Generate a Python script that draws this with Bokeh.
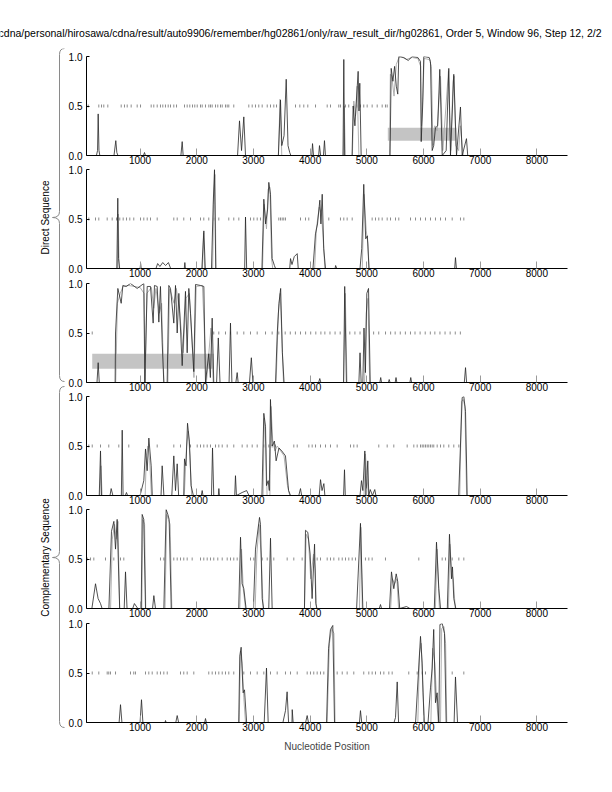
from bokeh.plotting import figure
from bokeh.models import Range1d, LinearAxis, FixedTicker, PrintfTickFormatter
from bokeh.layouts import column, row
from bokeh.embed import file_html
from bokeh.resources import INLINE
from bokeh.core.properties import value
import math

FONT = "Liberation Sans"

TITLE = "cdna/personal/hirosawa/cdna/result/auto9906/remember/hg02861/only/raw_result_dir/hg02861, Order 5, Window 96, Step 12, 2/2"
GROUP_LABELS = ["Direct Sequence", "Complementary Sequence"]
X_LABEL = "Nucleotide Position"
X_TICKS = [1000, 2000, 3000, 4000, 5000, 6000, 7000, 8000]
Y_TICKS = [0.0, 0.5, 1.0]
X_START, X_END = 55, 8540

# ---------------- panel 1 (Direct) ----------------
p1_black = [(60,0),(230,0),(250,0.05),(261,0.42),(275,0.05),(290,0),(540,0),(572,0.15),(590,0.03),(610,0),
            (1060,0),(1078,0.03),(1095,0),(1720,0),(1743,0.14),(1760,0),(2720,0),(2754,0.35),(2790,0.05),(2830,0.39),
            (2860,0),(3440,0),(3477,0.56),(3500,0.1),(3540,0.2),(3578,0.77),(3610,0.1),(3640,0.03),(3660,0),
            (4030,0),(4042,0.12),(4060,0),(4150,0),(4165,0.1),(4185,0),(4235,0),(4253,0.15),(4270,0),
            (4580,0),(4594,0.97),(4608,0),(4740,0),(4759,0.5),(4790,0.3),(4847,0.85),(4862,0.45),(4876,0.73),(4900,0),
            (5410,0),(5430,0.88),(5460,0.75),(5490,0.9),(5520,0.7),(5546,0.62),(5564,1.0),(5650,0.99),(5730,0.96),
            (5800,1.0),(5900,0.99),(5947,0.95),(5959,0.14),(5985,0.5),(6005,1.0),(6100,0.99),(6123,0.95),(6153,0.05),
            (6180,0.1),(6211,0.28),(6250,0.3),(6287,0.87),(6330,0),(6400,0.05),(6446,0.88),(6476,0),(6534,0.82),
            (6582,0),(6652,0.49),(6682,0),(6758,0.17),(6780,0)]
p1_gray = [(60,0),(3440,0),(3470,0.57),(3500,0),(4585,0),(4602,0.5),(4620,0),(4745,0),(4770,0.55),(4800,0.4),
           (4830,0.7),(4860,0),(5400,0),(5415,0.82),(5440,0.8),(5480,0.6),(5520,0.92),(5560,0.98),(5600,1.0),
           (5700,0.97),(5800,0.99),(5900,0.98),(5950,0.9),(5965,0.3),(5990,0.6),(6010,0.98),(6100,0.97),(6140,0.9),
           (6165,0.1),(6200,0.3),(6240,0.25),(6300,0.8),(6340,0.05),(6440,0.85),(6460,0.4),(6480,0.05),(6520,0.75),
           (6540,0.8),(6570,0.1),(6620,0.05),(6650,0.3),(6700,0),(6780,0)]
p1_rug = [85,272,320,360,431,667,725,773,843,949,1008,1196,1242,1302,1360,1401,1448,1496,1537,1595,1643,1784,
          1831,1877,1925,1965,2008,2066,2096,2154,2213,2243,2272,2331,2371,2419,2449,2507,2537,2565,2653,2918,
          2978,3036,3094,3154,3243,3301,3359,3407,3742,3818,3888,3959,4095,4301,4359,4505,4535,4623,4681,4769,
          4829,4888,4946,5006,5094,5183,5271,5329,5359]
p1_box = [(5370, 6582, 0.15, 0.28)]

# ---------------- panel 2 (Direct) ----------------
p2_black = [(60,0),(590,0),(607,0.71),(620,0.1),(640,0),(1000,0),(1010,0.05),(1020,0),(1280,0),(1310,0.05),
            (1350,0.02),(1400,0.06),(1450,0.03),(1500,0.06),(1540,0),(1780,0),(1790,0.06),(1800,0),(2090,0),
            (2125,0.38),(2150,0),(2260,0),(2290,0.65),(2313,1.0),(2335,0),(2845,0),(2860,0.52),(2880,0),(3150,0),
            (3183,0.70),(3215,0.45),(3250,0.6),(3271,0.87),(3301,0.75),(3330,0.1),(3370,0.03),(3390,0),(3640,0),
            (3654,0.1),(3680,0.04),(3720,0.12),(3772,0.15),(3790,0),(4050,0),(4094,0.35),(4130,0.45),(4171,0.69),
            (4190,0.45),(4213,0.75),(4240,0.2),(4271,0),(4440,0),(4450,0.03),(4470,0),(4880,0),(4910,0.2),
            (4946,0.85),(4980,0.3),(5010,0.33),(5038,0),(6550,0),(6564,0.11),(6580,0),(6780,0)]
p2_gray = [(60,0),(600,0),(615,0.55),(630,0),(2100,0),(2120,0.36),(2140,0),(2280,0),(2300,0.7),(2320,0.95),
           (2340,0),(3160,0),(3190,0.65),(3230,0.4),(3260,0.8),(3290,0.82),(3320,0.1),(3340,0),(4080,0),(4110,0.4),
           (4160,0.62),(4200,0.55),(4230,0.3),(4260,0),(4920,0),(4950,0.75),(4990,0.38),(5020,0.25),(5040,0),(6780,0)]
p2_rug = [96,214,272,420,508,584,642,702,761,819,889,1008,1066,1126,1184,1302,1595,1655,1771,1890,2066,2124,
          2212,2300,2389,2565,2653,2742,2860,2948,3006,3066,3124,3447,3477,3507,3535,3565,3830,3918,3976,4329,
          4535,4594,4653,4742,5094,5153,5211,5271,5359,5418,5506,5564,5771,5859,5947,6035,6123,6211,6300,6388,
          6506,6652,6711]
p2_box = []

# ---------------- panel 3 (Direct) ----------------
p3_black = [(60,0),(240,0),(261,0.2),(280,0),(560,0),(567,0.5),(608,0.95),(667,0.8),(696,0.98),(755,0.97),
            (831,1.0),(949,0.95),(1066,1.0),(1084,0.0),(1126,0.97),(1184,0.97),(1231,0.6),(1254,0.98),(1302,0.97),
            (1331,0.61),(1360,0.97),(1390,0.4),(1419,0),(1478,0),(1507,0.98),(1537,0.95),(1595,0.6),(1625,0.98),
            (1655,0.5),(1684,0.9),(1743,0.17),(1801,0.92),(1831,0.3),(1860,0.95),(1890,0.7),(1948,0.11),(1978,0.99),
            (2066,0.98),(2125,0.97),(2154,0),(2212,0.29),(2240,0.05),(2272,0.65),(2300,0),(2350,0),(2380,0.45),
            (2410,0),(2570,0),(2595,0.6),(2620,0),(2690,0),(2713,0.1),(2730,0),(2930,0),(2963,0.25),(2990,0),
            (3390,0),(3420,0.5),(3450,0.8),(3480,0.95),(3510,0.3),(3540,0),(4150,0),(4170,0.04),(4190,0),
            (4590,0),(4610,0.97),(4640,0),(4860,0),(4880,0.3),(4900,0),(4930,0),(4950,0.55),(4975,0.1),(5000,0.9),
            (5030,0.95),(5060,0),(5230,0),(5245,0.05),(5260,0),(5380,0),(5395,0.03),(5410,0),(5500,0),(5515,0.05),
            (5530,0),(5760,0),(5775,0.05),(5790,0),(6720,0),(6741,0.15),(6760,0),(6780,0)]
p3_gray = [(60,0),(570,0),(600,0.8),(650,0.9),(700,0.97),(800,0.98),(900,0.97),(1000,0.96),(1070,0.9),(1090,0),
           (1120,0.9),(1200,0.96),(1240,0.75),(1280,0.95),(1340,0.7),(1380,0.8),(1420,0),(1490,0),(1520,0.95),
           (1600,0.8),(1640,0.95),(1700,0.7),(1760,0.3),(1810,0.85),(1870,0.9),(1950,0.05),(1990,0.97),(2100,0.98),
           (2150,0.3),(2170,0),(2250,0.55),(2290,0),(3400,0),(3440,0.7),(3470,0.9),(3500,0.5),(3530,0),(4590,0),
           (4620,0.9),(4650,0),(4960,0),(4990,0.7),(5020,0.85),(5050,0),(6780,0)]
p3_rug = [156,2300,2389,2507,2595,2713,2830,2948,3066,3213,3330,3447,3560,3650,3740,3830,3920,4010,4100,4190,
          4260,4350,4440,4530,4700,4790,4880,5120,5210,5330,5420,5500,5590,5680,5770,5850,5940,6030,6120,6200,
          6290,6380,6470,6560,6650]
p3_box = [(156, 2300, 0.14, 0.29)]

# ---------------- panel 4 (Complementary) ----------------
p4_black = [(60,0),(280,0),(302,0.45),(320,0),(470,0),(490,0.07),(520,0),(670,0),(685,0.66),(700,0),(740,0),
            (760,0.03),(780,0),(1000,0),(1066,0.15),(1096,0.47),(1125,0.25),(1155,0.58),(1196,0.3),(1215,0),
            (1370,0),(1390,0.3),(1420,0),(1560,0),(1595,0.4),(1625,0.05),(1655,0.32),(1680,0),(1770,0),(1784,0.37),
            (1810,0.3),(1837,0.73),(1870,0.55),(1900,0.1),(1940,0),(2080,0),(2096,0.05),(2110,0),(2260,0),
            (2278,0.48),(2300,0),(2380,0),(2390,0.07),(2400,0),(2670,0),(2683,0.2),(2700,0),(2800,0.03),(2880,0.05),
            (2920,0),(3150,0),(3183,0.83),(3213,0.7),(3230,0.1),(3260,0.15),(3280,0.05),(3300,0.97),(3330,0.5),
            (3370,0.55),(3400,0.35),(3450,0.48),(3500,0.45),(3565,0.4),(3620,0.05),(3654,0),(3800,0),(3830,0.07),
            (3850,0),(4160,0),(4183,0.16),(4210,0.05),(4242,0.12),(4260,0),(4590,0),(4606,0.26),(4620,0),(4880,0),
            (4906,0.15),(4930,0.05),(4965,0.45),(4985,0.0),(5017,0.35),(5035,0),(5060,0.06),(5100,0),(5140,0.06),
            (5160,0),(6620,0),(6682,0.99),(6711,1.0),(6741,0.85),(6770,0),(6780,0)]
p4_gray = [(60,0),(290,0),(310,0.3),(330,0),(1090,0),(1110,0.4),(1140,0.5),(1170,0.35),(1200,0),(1780,0),
           (1820,0.5),(1850,0.65),(1880,0.4),(1910,0),(3170,0),(3190,0.78),(3220,0.5),(3240,0),(3290,0),(3310,0.9),
           (3340,0.55),(3380,0.45),(3420,0.5),(3480,0.45),(3540,0.4),(3600,0.1),(3640,0),(4950,0),(4975,0.42),
           (5000,0.2),(5030,0),(6640,0),(6670,0.95),(6700,0.97),(6730,0.9),(6760,0),(6780,0)]
p4_rug = [96,156,302,448,625,801,1302,1595,1713,1890,2008,2066,2124,2184,2242,2331,2389,2449,2537,2653,2801,
          2889,2978,3066,3183,3271,3330,3389,3712,3772,3977,4036,4095,4183,4271,4359,4477,4712,4770,4830,5211,
          5359,5476,5712,5829,5888,5947,5977,6005,6035,6065,6093,6123,6153,6181,6241,6300,6358,6446,6534,6623]
p4_box = []

# ---------------- panel 5 (Complementary) ----------------
p5_black = [(60,0),(150,0),(214,0.25),(260,0.1),(302,0.05),(330,0),(450,0),(496,0.78),(538,0.88),(567,0.6),
            (596,0.9),(640,0),(720,0),(743,0.37),(770,0),(870,0),(900,0.05),(960,0),(1020,0),(1037,0.95),
            (1066,0.9),(1096,0),(1220,0),(1243,0.13),(1272,0),(1420,0),(1460,1.0),(1490,0.95),(1513,0.9),(1550,0),
            (2740,0),(2772,0.72),(2800,0.25),(2830,0.2),(2870,0),(3000,0),(3036,0.6),(3107,0.92),(3124,0.85),
            (3154,0.1),(3180,0),(3270,0),(3301,0.71),(3330,0),(3900,0),(3918,0.79),(3959,0.77),(4000,0.55),
            (4035,0.1),(4078,0.65),(4100,0.05),(4120,0),(4820,0),(4888,0.86),(4930,0),(5220,0),(5241,0.04),
            (5260,0),(5400,0),(5435,0.37),(5476,0.2),(5518,0.35),(5546,0.27),(5580,0),(5700,0.02),(5760,0),
            (6190,0),(6229,0.67),(6270,0.2),(6300,0),(6420,0),(6458,0.75),(6493,0.3),(6511,0.42),(6534,0.1),
            (6570,0),(6780,0)]
p5_gray = [(60,0),(480,0),(510,0.7),(550,0.85),(580,0.7),(610,0.88),(640,0),(1030,0),(1050,0.9),(1080,0.85),
           (1100,0),(1440,0),(1470,0.95),(1500,0.9),(1530,0.85),(1560,0),(2760,0),(2790,0.6),(2820,0.2),(2860,0),
           (3030,0),(3060,0.55),(3100,0.85),(3140,0.5),(3170,0),(3900,0),(3930,0.75),(3970,0.7),(4010,0.3),
           (4060,0.55),(4090,0.4),(4110,0),(4870,0),(4895,0.82),(4920,0),(5420,0),(5450,0.3),(5490,0.25),
           (5530,0.3),(5560,0),(6210,0),(6240,0.6),(6280,0),(6440,0),(6465,0.65),(6500,0.35),(6525,0.3),(6560,0),
           (6780,0)]
p5_rug = [67,126,184,390,537,655,713,1360,1419,1595,1655,1713,1771,1831,1919,2066,2124,2184,2242,2300,2371,
          2449,2537,2595,2653,2713,2948,3006,3154,3243,3359,3595,3712,3859,4064,4124,4183,4301,4359,4418,4506,
          4566,4624,4682,4742,4800,4976,5035,5094,5329,5917,6329,6388,6506,6623,6711]
p5_box = []

# ---------------- panel 6 (Complementary) ----------------
p6_black = [(60,0),(630,0),(655,0.18),(680,0),(1000,0),(1025,0.23),(1050,0),(1440,0),(1449,0.02),(1460,0),
            (1630,0),(1655,0.07),(1680,0),(2140,0),(2154,0.04),(2170,0),(2740,0),(2759,0.67),(2783,0.76),
            (2818,0.3),(2842,0.33),(2880,0),(3190,0),(3230,0.55),(3260,0),(3520,0),(3565,0.12),(3594,0.31),
            (3620,0),(3680,0),(3684,0.13),(3700,0),(3920,0),(3948,0.07),(3970,0),(4290,0),(4325,0.75),(4359,0.94),
            (4400,0.98),(4430,0),(4870,0),(4888,0.12),(4910,0),(5480,0),(5506,0.05),(5536,0.41),(5560,0),(5860,0),
            (5947,0.87),(5976,0.6),(6010,0),(6080,0),(6123,0.35),(6153,0.55),(6180,0.94),(6211,0.2),(6240,0.3),
            (6270,0),(6290,0.99),(6330,1.0),(6370,0.9),(6400,0),(6540,0),(6564,0.46),(6600,0),(6780,0)]
p6_gray = [(60,0),(2750,0),(2770,0.72),(2800,0.6),(2830,0.25),(2860,0),(4300,0),(4340,0.8),(4380,0.95),
           (4420,0.9),(4440,0),(5900,0),(5930,0.7),(5960,0.8),(5990,0.3),(6020,0),(6130,0),(6160,0.75),(6200,0.6),
           (6230,0.25),(6260,0),(6300,0),(6320,0.95),(6360,0.97),(6390,0.8),(6410,0),(6780,0)]
p6_rug = [156,272,420,448,478,567,831,889,919,1096,1154,1214,1302,1360,1419,1479,1713,1771,1831,1948,2212,
          2272,2331,2389,2449,2507,2565,2653,2830,2948,3066,3183,3301,3419,3565,3654,3772,3948,4006,4064,4124,
          4183,4241,4477,4566,4653,4770,4946,5035,5094,5153,5241,5300,5388,5447,5740,5888,5977,6035,6506,6711]
p6_box = []

PANELS = [(p1_black, p1_gray, p1_rug, p1_box), (p2_black, p2_gray, p2_rug, p2_box),
          (p3_black, p3_gray, p3_rug, p3_box), (p4_black, p4_gray, p4_rug, p4_box),
          (p5_black, p5_gray, p5_rug, p5_box), (p6_black, p6_gray, p6_rug, p6_box)]

# ---------------- layout constants (page has no margin from bokeh's template) ----------------
PAGE_W = 612
TITLE_H = 48
LEFT_W = 65
FRAME_W, FRAME_H = 481, 99
BORDER_L = 21
BORDER_R = PAGE_W - LEFT_W - BORDER_L - FRAME_W
BORDER_T = 8
BORDER_B = 14
LAST_BOTTOM = 40
OVERLAP = [0, 8, 7, 8, 8, 7]   # negative top margins so that tick labels may share rows

x_range = Range1d(X_START, X_END)
figs = []
heights = []
for i, (blk, gry, rug, box) in enumerate(PANELS):
    last = i == len(PANELS) - 1
    bb = LAST_BOTTOM if last else BORDER_B
    p = figure(frame_width=FRAME_W, frame_height=FRAME_H, x_range=x_range, y_range=Range1d(0, 1),
               output_backend="svg", toolbar_location=None, x_axis_location=None, y_axis_location=None,
               min_border_left=BORDER_L, min_border_right=BORDER_R, min_border_top=BORDER_T,
               min_border_bottom=bb, margin=(-OVERLAP[i], 0, 0, 0))
    heights.append(BORDER_T + FRAME_H + bb - OVERLAP[i])
    p.outline_line_color = None
    p.background_fill_color = None
    p.border_fill_color = None
    for g in p.grid:
        g.visible = False

    xa = LinearAxis(ticker=FixedTicker(ticks=X_TICKS), axis_line_color="black", axis_line_width=1,
                    major_tick_in=7, major_tick_out=0, major_tick_line_color="#9a9a9a",
                    minor_tick_line_color=None,
                    major_label_text_font=FONT, major_label_text_font_size="10px",
                    major_label_text_color="black", major_label_standoff=0)
    if last:
        xa.axis_label = X_LABEL
        xa.axis_label_text_font = FONT
        xa.axis_label_text_font_size = "10px"
        xa.axis_label_text_font_style = "normal"
        xa.axis_label_standoff = 7
    p.add_layout(xa, "below")

    ya = LinearAxis(ticker=FixedTicker(ticks=Y_TICKS), formatter=PrintfTickFormatter(format="%.1f"),
                    axis_line_color="black", major_tick_in=3, major_tick_out=0, major_tick_line_color="black",
                    minor_tick_line_color=None, major_label_text_font=FONT, major_label_text_font_size="10px",
                    major_label_text_color="black", major_label_standoff=4)
    p.add_layout(ya, "left")

    for (l, r, b, t) in box:
        p.quad(left=[l], right=[r], bottom=[b], top=[t], fill_color="#c4c4c4", line_color=None)
    p.segment(x0=rug, y0=[0.485] * len(rug), x1=rug, y1=[0.515] * len(rug), line_color="#8c8c8c", line_width=1)
    gx, gy = zip(*gry)
    p.line(list(gx), list(gy), line_color="#a8a8a8", line_width=0.9)
    bx, by = zip(*blk)
    p.line(list(bx), list(by), line_color="#262626", line_width=0.8)
    figs.append(p)

H = sum(heights)
Y0 = TITLE_H  # page y of the top of the panel block

left = figure(width=LEFT_W, height=H, x_range=Range1d(0, LEFT_W), y_range=Range1d(Y0 + H, Y0),
              output_backend="svg", toolbar_location=None, x_axis_location=None, y_axis_location=None,
              min_border=0)
left.outline_line_color = None
for g in left.grid:
    g.visible = False

BRACES = [(48, 217, 381), (386, 557, 727)]
BX_END, BX_MID, BX_TIP, R = 64, 59, 52, 6
for (y0, ym, y1) in BRACES:
    left.quadratic(x0=[BX_END, BX_MID, BX_TIP, BX_MID], y0=[y0, ym - R, ym, y1 - R],
                   x1=[BX_MID, BX_TIP, BX_MID, BX_END], y1=[y0 + R, ym, ym + R, y1],
                   cx=[BX_MID, BX_MID, BX_MID, BX_MID], cy=[y0, ym, ym, y1],
                   line_color="#8a8a8a", line_width=1)
    left.segment(x0=[BX_MID, BX_MID], y0=[y0 + R, ym + R], x1=[BX_MID, BX_MID], y1=[ym - R, y1 - R],
                 line_color="#8a8a8a", line_width=1)
left.text(x=[45, 45], y=[BRACES[0][1], BRACES[1][1]], text=GROUP_LABELS, angle=math.pi / 2,
          text_align="center", text_baseline="middle", text_font=value(FONT), text_font_size="10px",
          text_color="black")

tfig = figure(width=PAGE_W, height=TITLE_H, x_range=Range1d(0, PAGE_W), y_range=Range1d(TITLE_H, 0),
              output_backend="svg", toolbar_location=None, x_axis_location=None, y_axis_location=None,
              min_border=0)
tfig.outline_line_color = None
for g in tfig.grid:
    g.visible = False
tfig.text(x=[601], y=[32], text=[TITLE], text_align="right", text_baseline="middle",
          text_font=value(FONT), text_font_size="10.5px", text_color="black")

layout = column(tfig, row(left, column(*figs)))
open("out.html", "w").write(file_html(layout, INLINE))
